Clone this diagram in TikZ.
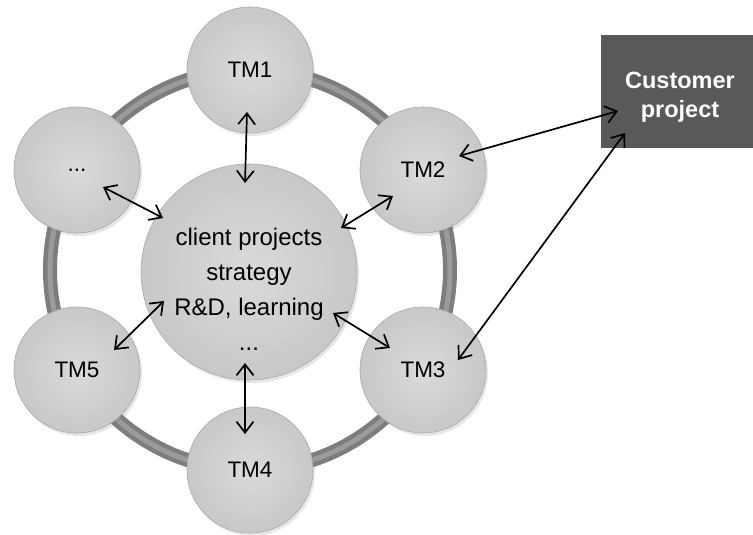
\documentclass[tikz,border=0pt]{standalone}
\usepackage{fontspec}
\setmainfont{Liberation Sans}
\usetikzlibrary{arrows.meta,shadows}
\definecolor{discfill}{RGB}{218,218,218}
\definecolor{discedge}{RGB}{200,200,200}
\definecolor{discrim}{RGB}{170,170,170}
\definecolor{ringdark}{RGB}{125,125,125}
\definecolor{ringlight}{RGB}{155,155,155}
\definecolor{boxgray}{RGB}{89,89,89}
\tikzset{
  disc/.style={circle, inner sep=0pt, shading=radial, inner color=discfill, outer color=discedge,
    draw=discrim, line width=0.6pt,
    drop shadow={opacity=0.2, shadow xshift=2pt, shadow yshift=-3pt}},
  tmdisc/.style={disc, minimum size=126pt, font=\fontsize{22.5}{26}\selectfont},
  bigdisc/.style={disc, minimum size=216pt},
  centertext/.style={align=center, font=\fontsize{24}{35}\selectfont, inner sep=0pt},
  custbox/.style={rectangle, fill=boxgray, inner sep=0pt, minimum width=152pt, minimum height=113pt},
  custtext/.style={align=center, text=white, font=\bfseries\fontsize{23.5}{29}\selectfont, inner sep=0pt},
  arr/.style={line width=1.7pt, {Straight Barb[length=11pt,width=17pt]}-{Straight Barb[length=11pt,width=17pt]}}
}
\begin{document}
\begin{tikzpicture}[x=1pt,y=-1pt]
\useasboundingbox (0,0) rectangle (753,535);
% ring
\draw[ringdark, line width=14pt] (250,270) circle[radius=200];
\draw[ringlight, line width=5pt] (250,270) circle[radius=200];
% discs
\node[bigdisc] (c) at (249,272) {};
\node[centertext] (ct) at (249,289) {client projects\\strategy\\R\&D, learning\\...};
\node[tmdisc] (tm1) at (250,70) {TM1};
\node[tmdisc] (tm2) at (423,170) {TM2};
\node[tmdisc] (tm3) at (423,370) {TM3};
\node[tmdisc] (tm4) at (250,470) {TM4};
\node[tmdisc] (tm5) at (77,370) {TM5};
\node[tmdisc] (tm6) at (77,170) {...};
% customer
\node[custbox] (cp) at (677,91.5) {};
\node[custtext] (cpt) at (680,97) {Customer\\project};
% arrow end points
\coordinate (a1s) at (247,112); \coordinate (a1e) at (245,183);
\coordinate (a2s) at (103,187); \coordinate (a2e) at (163,218);
\coordinate (a3s) at (393,196); \coordinate (a3e) at (341,228);
\coordinate (a4s) at (164,301); \coordinate (a4e) at (114,350);
\coordinate (a5s) at (333,313); \coordinate (a5e) at (390,348);
\coordinate (a6s) at (245,363); \coordinate (a6e) at (245,434);
\coordinate (a7s) at (459,156); \coordinate (a7e) at (618,111);
\coordinate (a8s) at (458,360); \coordinate (a8e) at (625,133);
\draw[arr] (a1s) -- (a1e);
\draw[arr] (a2s) -- (a2e);
\draw[arr] (a3s) -- (a3e);
\draw[arr] (a4s) -- (a4e);
\draw[arr] (a5s) -- (a5e);
\draw[arr] (a6s) -- (a6e);
\draw[arr] (a7s) -- (a7e);
\draw[arr] (a8s) -- (a8e);
\end{tikzpicture}
\end{document}
